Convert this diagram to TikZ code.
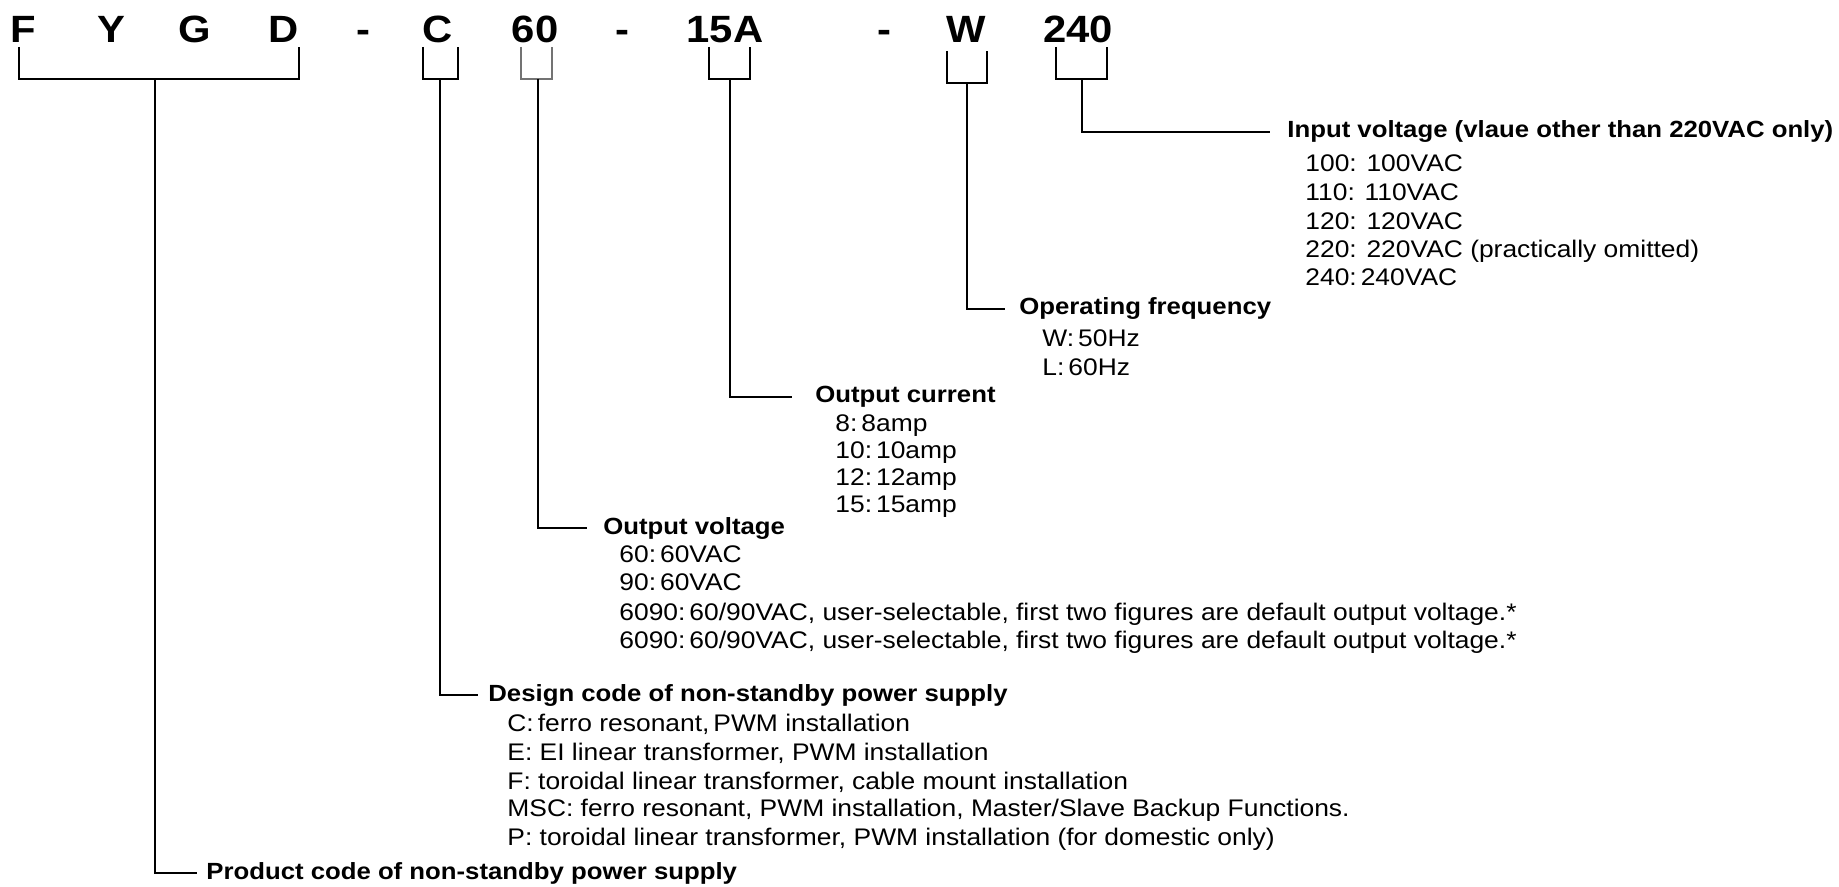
\documentclass[tikz,border=0pt]{standalone}
\usepackage{fontspec}
\setmainfont{Liberation Sans}[FakeStretch=1.1]
\begin{document}
\begin{tikzpicture}[x=0.5pt,y=-0.5pt,
  code/.style={font=\fontsize{19}{22}\selectfont\bfseries, anchor=base, inner sep=0pt},
  hdr/.style={font=\fontsize{11.7}{14}\selectfont\bfseries, anchor=west, inner sep=0pt},
  itm/.style={font=\fontsize{12}{14}\selectfont, anchor=base west, inner sep=0pt},
  brk/.style={line width=1pt, black},
  thinbrk/.style={line width=0.6pt, black!55},
  lead/.style={line width=1pt, black}]
\useasboundingbox (0,0) rectangle (1839,887);

% code letters
\node[code] (cF) at (23,43) {F};
\node[code] (cY) at (111,43) {Y};
\node[code] (cG) at (195,43) {G};
\node[code] (cD) at (284,43) {D};
\node[code] (dash1) at (363,43) {-};
\node[code] (cC) at (438,43) {C};
\node[code] (c60) at (535,43) {60};
\node[code] (dash2) at (622,43) {-};
\node[code] (c15A) at (725,43) {15A};
\node[code] (dash3) at (884,43) {-};
\node[code] (cW) at (966,43) {W};
\node[code] (c240) at (1078,43) {240};

% bracket coordinates
\coordinate (bPl) at (18.6,47);  \coordinate (bPr) at (298.5,47); \coordinate (bPm) at (155,79);
\coordinate (bCl) at (423,47);   \coordinate (bCr) at (458,47);   \coordinate (bCm) at (440,79);
\coordinate (bVl) at (521,47);   \coordinate (bVr) at (552,47);   \coordinate (bVm) at (538,79);
\coordinate (bAl) at (709,47);   \coordinate (bAr) at (749.5,47); \coordinate (bAm) at (730,79);
\coordinate (bWl) at (947,51);   \coordinate (bWr) at (987,51);   \coordinate (bWm) at (967,83);
\coordinate (bIl) at (1055.5,47);\coordinate (bIr) at (1107,47);  \coordinate (bIm) at (1082,79);

\draw[brk] (bPl) |- (bPm) -| (bPr);
\draw[brk] (bCl) |- (bCm) -| (bCr);
\draw[thinbrk] (bVl) |- (bVm) -| (bVr);
\draw[brk] (bAl) |- (bAm) -| (bAr);
\draw[brk] (bWl) |- (bWm) -| (bWr);
\draw[brk] (bIl) |- (bIm) -| (bIr);

% headers
\node[hdr] (hIn) at (1287,132) {Input voltage (vlaue other than 220VAC only)};
\node[hdr] (hFr) at (1019,309) {Operating frequency};
\node[hdr] (hCu) at (815,397) {Output current};
\node[hdr] (hOv) at (603,528) {Output voltage};
\node[hdr] (hDe) at (488,695) {Design code of non-standby power supply};
\node[hdr] (hPr) at (206,873) {Product code of non-standby power supply};

% leaders
\draw[lead, shorten >=8.5pt] (bIm) |- (hIn.west);
\draw[lead, shorten >=7pt] (bWm) |- (hFr.west);
\draw[lead, shorten >=11.5pt] (bAm) |- (hCu.west);
\draw[lead, shorten >=8pt] (bVm) |- (hOv.west);
\draw[lead, shorten >=5pt] (bCm) |- (hDe.west);
\draw[lead, shorten >=4.5pt] (bPm) |- (hPr.west);

% input voltage items
\node[itm] (i1) at (1305,171.5) {100: 100VAC};
\node[itm] (i2) at (1305,200.5) {110: 110VAC};
\node[itm] (i3) at (1305,229.5) {120: 120VAC};
\node[itm] (i4) at (1305,257.5) {220: 220VAC (practically omitted)};
\node[itm] (i5) at (1305,285.5) {240:\,240VAC};

% frequency items
\node[itm] (f1) at (1042,346.5) {W:\,50Hz};
\node[itm] (f2) at (1042,375.5) {L:\,60Hz};

% current items
\node[itm] (a1) at (835,431.5) {8:\,8amp};
\node[itm] (a2) at (835,458.5) {10:\,10amp};
\node[itm] (a3) at (835,485.5) {12:\,12amp};
\node[itm] (a4) at (835,512.5) {15:\,15amp};

% output voltage items
\node[itm] (v1) at (619,562.5) {60:\,60VAC};
\node[itm] (v2) at (619,590.5) {90:\,60VAC};
\node[itm] (v3) at (619,620.5) {6090:\,60/90VAC, user-selectable, first two figures are default output voltage.*};
\node[itm] (v4) at (619,648.5) {6090:\,60/90VAC, user-selectable, first two figures are default output voltage.*};

% design code items
\node[itm] (d1) at (507,731.5) {C:\,ferro resonant,\,PWM installation};
\node[itm] (d2) at (507,760.5) {E: EI linear transformer, PWM installation};
\node[itm] (d3) at (507,789.5) {F: toroidal linear transformer, cable mount installation};
\node[itm] (d4) at (507,816.5) {MSC: ferro resonant, PWM installation, Master/Slave Backup Functions.};
\node[itm] (d5) at (507,845.5) {P: toroidal linear transformer, PWM installation (for domestic only)};
\end{tikzpicture}
\end{document}
